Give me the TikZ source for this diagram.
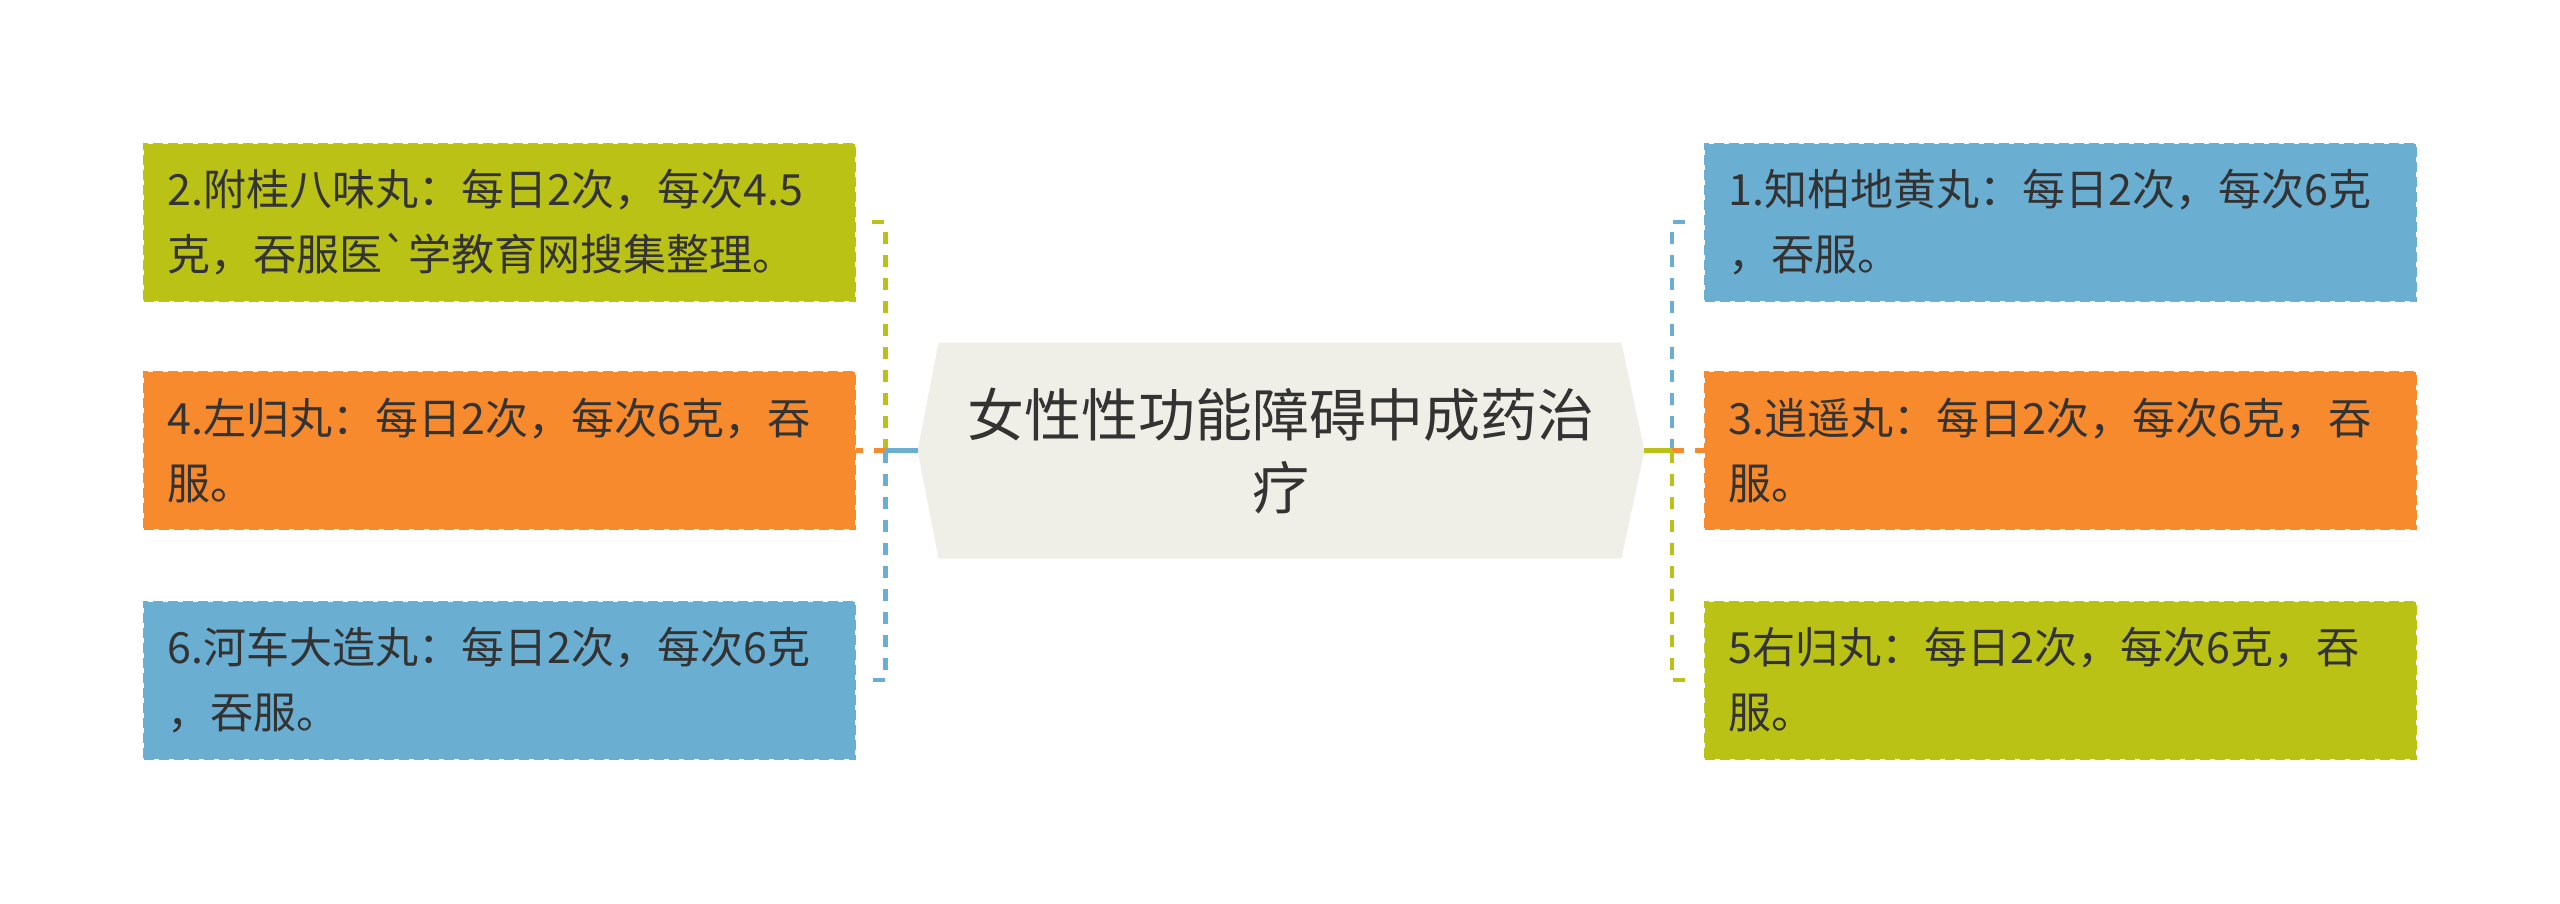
\documentclass[tikz,border=0pt]{standalone}
\usepackage{fontspec}
\newfontfamily\cjk{Noto Sans CJK SC}
\usetikzlibrary{calc}
\definecolor{cgreen}{HTML}{BBC216}
\definecolor{corange}{HTML}{F68A2C}
\definecolor{cblue}{HTML}{6AAED2}
\definecolor{cfill}{HTML}{EFEFE7}
\definecolor{ctext}{HTML}{333333}
\pgfdeclarelayer{bg}
\pgfsetlayers{bg,main}
\begin{document}
\begin{tikzpicture}[x=1pt,y=-1pt,
  leaf/.style={rectangle, minimum height=157pt, text width=663pt, inner xsep=24pt, inner ysep=0pt,
    align=left, font=\cjk\fontsize{43}{65}\selectfont, text=ctext, line width=2pt,
    dash pattern=on 10pt off 5pt},
  leafgreen/.style={leaf, fill=cgreen, draw=cgreen},
  leaforange/.style={leaf, fill=corange, draw=corange},
  leafblue/.style={leaf, fill=cblue, draw=cblue},
  rootbox/.style={rectangle, minimum width=726.5pt, minimum height=215.5pt, inner sep=0pt,
    text width=690pt, align=center, font=\cjk\fontsize{57}{73}\selectfont, text=ctext},
  link/.style={line width=4.5pt},
  dlink/.style={line width=4.5pt, dash pattern=on 12pt off 11pt}]
\useasboundingbox (0,0) rectangle (2560,903);
\node[rootbox] (root) at (1281,450.6) {女性性功能障碍中成药治\\疗};
\begin{pgfonlayer}{bg}
\fill[cfill] (root.west) -- ([xshift=21pt]root.north west) -- ([xshift=-23pt]root.north east)
  -- (root.east) -- ([xshift=-23pt]root.south east) -- ([xshift=21pt]root.south west) -- cycle;
\end{pgfonlayer}
% left boxes
\node[leafgreen] (n2) at (499,222) {2.附桂八味丸：每日2次，每次4.5\\克，吞服医`学教育网搜集整理。};
\node[leaforange] (n4) at (499,450.6) {4.左归丸：每日2次，每次6克，吞\\服。};
\node[leafblue] (n6) at (499,680) {6.河车大造丸：每日2次，每次6克\\，吞服。};
% right boxes
\node[leafblue] (n1) at (2060,222) {1.知柏地黄丸：每日2次，每次6克\\，吞服。};
\node[leaforange] (n3) at (2060,450.6) {3.逍遥丸：每日2次，每次6克，吞\\服。};
\node[leafgreen] (n5) at (2060,680) {5右归丸：每日2次，每次6克，吞\\服。};
% trunks
\coordinate (tl) at (885.5,450.6);
\coordinate (tr) at (1672,450.6);
% left connectors
\draw[link, cgreen] (root.west) -- (tl);
\draw[dlink, cgreen] (tl) |- ($(n2.east)+(10pt,0)$);
\draw[link, corange] (root.west) -- (tl);
\draw[dlink, corange] (tl) -- (n4.east);
\draw[link, cblue] (root.west) -- (tl);
\draw[dlink, cblue] (tl) |- ($(n6.east)+(10pt,0)$);
% right connectors
\draw[link, cblue] (root.east) -- (tr);
\draw[dlink, cblue] (tr) |- ($(n1.west)+(-11pt,0)$);
\draw[link, corange] (root.east) -- (tr);
\draw[dlink, corange] (tr) -- (n3.west);
\draw[link, cgreen] (root.east) -- (tr);
\draw[dlink, cgreen] (tr) |- ($(n5.west)+(-11pt,0)$);
\end{tikzpicture}
\end{document}
